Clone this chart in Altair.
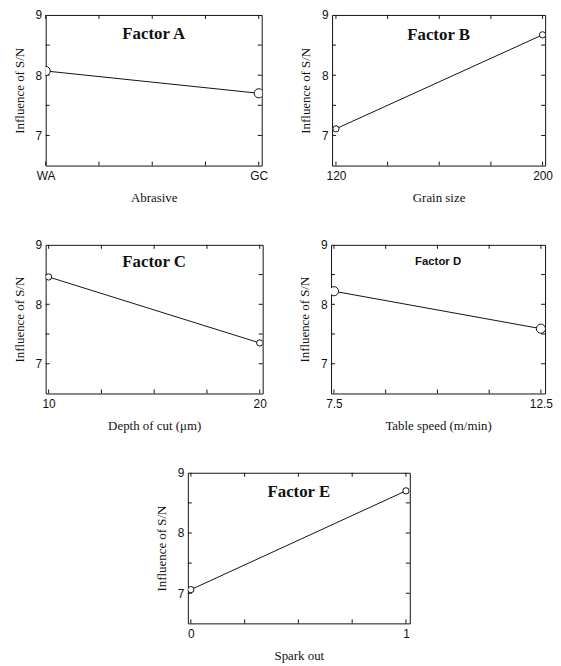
import altair as alt
import pandas as pd

# ---------------- data ----------------
titles = ["Factor A", "Factor B", "Factor C", "Factor D", "Factor E"]
x_titles = ["Abrasive", "Grain size", "Depth of cut (μm)", "Table speed (m/min)", "Spark out"]
y_title = "Influence of S/N"
levels = [[0, 1], [120, 200], [10, 20], [7.5, 12.5], [0, 1]]
level_labels = [["WA", "GC"], ["120", "200"], ["10", "20"], ["7.5", "12.5"], ["0", "1"]]
sn_values = [[8.07, 7.70], [7.11, 8.67], [8.46, 7.35], [8.22, 7.59], [7.06, 8.70]]
y_labels = [7, 8, 9]
y_minor = [7, 7.5, 8, 8.5]

# ---------------- styling ----------------
geom = [
    dict(w=218, h=152, xdom=[0, 1.014], size=85, ty=19, tfont="Liberation Serif", tsize=17),
    dict(w=215, h=152, xdom=[118.5, 201], size=40, ty=20, tfont="Liberation Serif", tsize=17),
    dict(w=219, h=150, xdom=[9.86, 20.14], size=40, ty=17, tfont="Liberation Serif", tsize=17),
    dict(w=216, h=150, xdom=[7.43, 12.6], size=85, ty=17, tfont="Liberation Sans", tsize=11.5),
    dict(w=224, h=152, xdom=[-0.014, 1.018], size=40, ty=19, tfont="Liberation Serif", tsize=17),
]
YDOM = [6.5, 9]
INK = "#111111"
TICK = 4


def label_expr(vals, labs):
    expr = "''"
    for v, l in zip(reversed(vals), reversed(labs)):
        expr = f"datum.value == {v} ? '{l}' : ({expr})"
    return expr


def panel(i):
    g = geom[i]
    lo, hi = levels[i]
    df = pd.DataFrame({"x": levels[i], "y": sn_values[i]})
    xminor = pd.DataFrame({"x": [lo + (hi - lo) * k / 4 for k in range(5)]})
    yminor = pd.DataFrame({"y": y_minor})
    tdf = pd.DataFrame({"t": [titles[i]]})

    xaxis = alt.Axis(values=levels[i], labelExpr=label_expr(levels[i], level_labels[i]),
                     title=x_titles[i], ticks=False, domain=False, grid=False,
                     labelFlush=False, labelFont="Liberation Sans", labelFontSize=12,
                     labelColor=INK, labelPadding=5, titleFont="Liberation Serif",
                     titleFontSize=13, titleFontWeight="normal", titleColor=INK,
                     titlePadding=10)
    yaxis = alt.Axis(values=y_labels, title=y_title, ticks=False, domain=False, grid=False,
                     labelFont="Liberation Sans", labelFontSize=12, labelColor=INK,
                     labelPadding=4, titleFont="Liberation Serif", titleFontSize=13,
                     titleFontWeight="normal", titleColor=INK, titlePadding=9)
    X = alt.X("x:Q", scale=alt.Scale(domain=g["xdom"], nice=False, zero=False), axis=xaxis)
    Y = alt.Y("y:Q", scale=alt.Scale(domain=YDOM, nice=False, zero=False), axis=yaxis)

    line = alt.Chart(df).mark_line(color=INK, strokeWidth=1, clip=True).encode(x=X, y=Y)
    pts = alt.Chart(df).mark_point(shape="circle", filled=True, fill="white", stroke=INK,
                                   strokeWidth=1, size=g["size"], opacity=1, clip=True).encode(x=X, y=Y)
    xt_top = alt.Chart(xminor).mark_rule(color=INK, strokeWidth=1).encode(
        x=X, y=alt.value(0), y2=alt.value(TICK))
    xt_bot = alt.Chart(xminor).mark_rule(color=INK, strokeWidth=1).encode(
        x=X, y=alt.value(g["h"]), y2=alt.value(g["h"] - TICK))
    yt_l = alt.Chart(yminor).mark_rule(color=INK, strokeWidth=1).encode(
        y=Y, x=alt.value(0), x2=alt.value(TICK))
    yt_r = alt.Chart(yminor).mark_rule(color=INK, strokeWidth=1).encode(
        y=Y, x=alt.value(g["w"]), x2=alt.value(g["w"] - TICK))
    ttl = alt.Chart(tdf).mark_text(font=g["tfont"], fontSize=g["tsize"], fontWeight="bold",
                                   color=INK, align="center", baseline="middle").encode(
        text="t:N", x=alt.value(g["w"] / 2), y=alt.value(g["ty"]))
    return alt.layer(xt_top, xt_bot, yt_l, yt_r, line, pts, ttl).properties(
        width=g["w"], height=g["h"])


row1 = alt.hconcat(panel(0), panel(1), spacing=30)
row2 = alt.hconcat(panel(2), panel(3), spacing=30)
chart = alt.vconcat(row1, row2, panel(4), spacing=33, center=True).properties(
    padding={"left": 4, "top": -3, "right": 0, "bottom": 0}
).configure(background="white", view=alt.ViewConfig(stroke=INK, strokeWidth=1))

chart.save("out.html", embed_options={"renderer": "svg", "actions": False})
